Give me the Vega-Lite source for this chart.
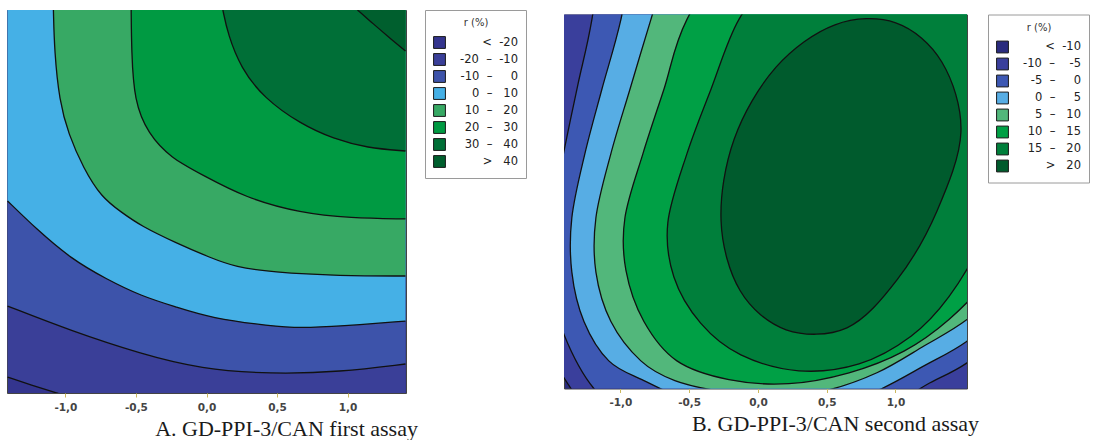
{
  "$schema": "https://vega.github.io/schema/vega-lite/v6.json",
  "background": "white",
  "padding": {"left": 6, "top": 9, "right": 0, "bottom": 0},
  "spacing": 36,
  "center": true,
  "config": {
    "view": {"stroke": "#444", "strokeWidth": 1},
    "axis": {"grid": false},
    "legend": {
      "orient": "right", "strokeColor": "#9a9a9a", "strokeWidth": 1, "fillColor": "#ffffff", "padding": 8,
      "symbolType": "square", "symbolSize": 140, "symbolStrokeColor": "#1a1a1a", "symbolStrokeWidth": 1, "symbolOpacity": 1,
      "labelFont": "DejaVu Sans", "labelFontSize": 11.5, "labelColor": "#222", "labelAlign": "right", "labelOffset": 72,
      "titleFont": "DejaVu Sans", "titleFontSize": 10, "titleFontWeight": "normal", "titleColor": "#333", "titleAnchor": "middle",
      "rowPadding": 0, "titlePadding": 8
    }
  },
  "resolve": {"scale": {"x": "independent", "y": "independent", "color": "independent", "fill": "independent"}, "legend": {"color": "independent", "fill": "independent"}},
  "datasets": {
    "a": [
      {"lvl": 1, "x": -1.41, "y": -1.296}, {"lvl": 1, "x": -1.241, "y": -1.355}, {"lvl": 1, "x": -1.064, "y": -1.414}, {"lvl": 1, "x": -0.888, "y": -1.47}, {"lvl": 1, "x": 1.41, "y": -1.47},
      {"lvl": 2, "x": -1.41, "y": -0.772}, {"lvl": 2, "x": -0.958, "y": -0.956}, {"lvl": 2, "x": -0.464, "y": -1.126}, {"lvl": 2, "x": -0.04, "y": -1.237}, {"lvl": 2, "x": 0.455, "y": -1.274}, {"lvl": 2, "x": 0.95, "y": -1.259}, {"lvl": 2, "x": 1.41, "y": -1.2},
      {"lvl": 3, "x": -1.41, "y": 0.004}, {"lvl": 3, "x": -1.206, "y": -0.203}, {"lvl": 3, "x": -0.958, "y": -0.425}, {"lvl": 3, "x": -0.711, "y": -0.572}, {"lvl": 3, "x": -0.464, "y": -0.698}, {"lvl": 3, "x": -0.216, "y": -0.779}, {"lvl": 3, "x": 0.031, "y": -0.861}, {"lvl": 3, "x": 0.455, "y": -0.92}, {"lvl": 3, "x": 0.667, "y": -0.934}, {"lvl": 3, "x": 0.95, "y": -0.92}, {"lvl": 3, "x": 1.41, "y": -0.883},
      {"lvl": 4, "x": -1.085, "y": 1.414}, {"lvl": 4, "x": -1.078, "y": 1.111}, {"lvl": 4, "x": -1.043, "y": 0.742}, {"lvl": 4, "x": -0.979, "y": 0.499}, {"lvl": 4, "x": -0.873, "y": 0.247}, {"lvl": 4, "x": -0.746, "y": 0.033}, {"lvl": 4, "x": -0.605, "y": -0.078}, {"lvl": 4, "x": -0.464, "y": -0.181}, {"lvl": 4, "x": -0.216, "y": -0.306}, {"lvl": 4, "x": 0.031, "y": -0.417}, {"lvl": 4, "x": 0.208, "y": -0.484}, {"lvl": 4, "x": 0.455, "y": -0.521}, {"lvl": 4, "x": 0.95, "y": -0.55}, {"lvl": 4, "x": 1.41, "y": -0.55},
      {"lvl": 5, "x": -0.534, "y": 1.414}, {"lvl": 5, "x": -0.531, "y": 1.111}, {"lvl": 5, "x": -0.513, "y": 0.742}, {"lvl": 5, "x": -0.414, "y": 0.499}, {"lvl": 5, "x": -0.252, "y": 0.321}, {"lvl": 5, "x": -0.04, "y": 0.203}, {"lvl": 5, "x": 0.278, "y": 0.026}, {"lvl": 5, "x": 0.667, "y": -0.085}, {"lvl": 5, "x": 1.02, "y": -0.122}, {"lvl": 5, "x": 1.41, "y": -0.129},
      {"lvl": 6, "x": 0.116, "y": 1.414}, {"lvl": 6, "x": 0.151, "y": 1.237}, {"lvl": 6, "x": 0.243, "y": 0.986}, {"lvl": 6, "x": 0.406, "y": 0.764}, {"lvl": 6, "x": 0.667, "y": 0.572}, {"lvl": 6, "x": 0.9, "y": 0.462}, {"lvl": 6, "x": 1.14, "y": 0.395}, {"lvl": 6, "x": 1.41, "y": 0.373},
      {"lvl": 7, "x": 1.07, "y": 1.414}, {"lvl": 7, "x": 1.183, "y": 1.311}, {"lvl": 7, "x": 1.282, "y": 1.222}, {"lvl": 7, "x": 1.41, "y": 1.111}
    ],
    "b": [
      {"lvl": 1, "i": 1, "x": 0.007, "y": 4.093}, {"lvl": 1, "i": 2, "x": -0.865, "y": 3.422}, {"lvl": 1, "i": 3, "x": -1.338, "y": 2.526}, {"lvl": 1, "i": 4, "x": -1.535, "y": 1.631}, {"lvl": 1, "i": 5, "x": -1.629, "y": 0.735}, {"lvl": 1, "i": 6, "x": -1.68, "y": -0.16}, {"lvl": 1, "i": 7, "x": -1.593, "y": -0.907}, {"lvl": 1, "i": 8, "x": -1.411, "y": -1.332}, {"lvl": 1, "i": 9, "x": -1.156, "y": -1.653}, {"lvl": 1, "i": 10, "x": -0.72, "y": -1.951}, {"lvl": 1, "i": 11, "x": -0.138, "y": -2.101}, {"lvl": 1, "i": 12, "x": 0.516, "y": -2.086}, {"lvl": 1, "i": 13, "x": 1.098, "y": -1.914}, {"lvl": 1, "i": 14, "x": 1.571, "y": -1.504}, {"lvl": 1, "i": 15, "x": 2.044, "y": -0.981}, {"lvl": 1, "i": 16, "x": 2.48, "y": -0.384}, {"lvl": 1, "i": 17, "x": 2.844, "y": 0.362}, {"lvl": 1, "i": 18, "x": 3.062, "y": 1.257}, {"lvl": 1, "i": 19, "x": 3.062, "y": 2.228}, {"lvl": 1, "i": 20, "x": 2.771, "y": 3.123}, {"lvl": 1, "i": 21, "x": 2.189, "y": 3.795}, {"lvl": 1, "i": 22, "x": 1.389, "y": 4.168}, {"lvl": 1, "i": 23, "x": 0.662, "y": 4.243},
      {"lvl": 2, "i": 1, "x": 0.007, "y": 3.646}, {"lvl": 2, "i": 2, "x": -0.72, "y": 3.049}, {"lvl": 2, "i": 3, "x": -1.084, "y": 2.228}, {"lvl": 2, "i": 4, "x": -1.207, "y": 1.377}, {"lvl": 2, "i": 5, "x": -1.309, "y": 0.884}, {"lvl": 2, "i": 6, "x": -1.411, "y": 0.377}, {"lvl": 2, "i": 7, "x": -1.505, "y": -0.123}, {"lvl": 2, "i": 8, "x": -1.52, "y": -0.571}, {"lvl": 2, "i": 9, "x": -1.411, "y": -1.004}, {"lvl": 2, "i": 10, "x": -1.193, "y": -1.414}, {"lvl": 2, "i": 11, "x": -0.865, "y": -1.69}, {"lvl": 2, "i": 12, "x": -0.429, "y": -1.84}, {"lvl": 2, "i": 13, "x": 0.116, "y": -1.877}, {"lvl": 2, "i": 14, "x": 0.662, "y": -1.765}, {"lvl": 2, "i": 15, "x": 0.989, "y": -1.541}, {"lvl": 2, "i": 16, "x": 1.229, "y": -1.384}, {"lvl": 2, "i": 17, "x": 1.52, "y": -1.22}, {"lvl": 2, "i": 18, "x": 1.898, "y": -0.907}, {"lvl": 2, "i": 19, "x": 2.262, "y": -0.459}, {"lvl": 2, "i": 20, "x": 2.589, "y": 0.138}, {"lvl": 2, "i": 21, "x": 2.807, "y": 0.959}, {"lvl": 2, "i": 22, "x": 2.844, "y": 1.854}, {"lvl": 2, "i": 23, "x": 2.589, "y": 2.75}, {"lvl": 2, "i": 24, "x": 2.044, "y": 3.422}, {"lvl": 2, "i": 25, "x": 1.244, "y": 3.72}, {"lvl": 2, "i": 26, "x": 0.589, "y": 3.757},
      {"lvl": 3, "i": 1, "x": 0.153, "y": 3.272}, {"lvl": 3, "i": 2, "x": -0.502, "y": 2.75}, {"lvl": 3, "i": 3, "x": -0.865, "y": 2.078}, {"lvl": 3, "i": 4, "x": -0.996, "y": 1.377}, {"lvl": 3, "i": 5, "x": -1.135, "y": 0.847}, {"lvl": 3, "i": 6, "x": -1.258, "y": 0.362}, {"lvl": 3, "i": 7, "x": -1.353, "y": -0.123}, {"lvl": 3, "i": 8, "x": -1.353, "y": -0.534}, {"lvl": 3, "i": 9, "x": -1.265, "y": -0.907}, {"lvl": 3, "i": 10, "x": -1.084, "y": -1.205}, {"lvl": 3, "i": 11, "x": -0.829, "y": -1.354}, {"lvl": 3, "i": 12, "x": -0.502, "y": -1.504}, {"lvl": 3, "i": 13, "x": -0.138, "y": -1.578}, {"lvl": 3, "i": 14, "x": 0.225, "y": -1.593}, {"lvl": 3, "i": 15, "x": 0.589, "y": -1.541}, {"lvl": 3, "i": 16, "x": 0.902, "y": -1.414}, {"lvl": 3, "i": 17, "x": 1.207, "y": -1.243}, {"lvl": 3, "i": 18, "x": 1.52, "y": -1.056}, {"lvl": 3, "i": 19, "x": 1.862, "y": -0.757}, {"lvl": 3, "i": 20, "x": 2.189, "y": -0.31}, {"lvl": 3, "i": 21, "x": 2.48, "y": 0.287}, {"lvl": 3, "i": 22, "x": 2.662, "y": 1.034}, {"lvl": 3, "i": 23, "x": 2.662, "y": 1.854}, {"lvl": 3, "i": 24, "x": 2.407, "y": 2.601}, {"lvl": 3, "i": 25, "x": 1.898, "y": 3.123}, {"lvl": 3, "i": 26, "x": 1.171, "y": 3.422},
      {"lvl": 4, "i": 1, "x": 0.298, "y": 2.899}, {"lvl": 4, "i": 2, "x": -0.356, "y": 2.377}, {"lvl": 4, "i": 3, "x": -0.633, "y": 1.854}, {"lvl": 4, "i": 4, "x": -0.778, "y": 1.377}, {"lvl": 4, "i": 5, "x": -0.931, "y": 0.847}, {"lvl": 4, "i": 6, "x": -1.069, "y": 0.362}, {"lvl": 4, "i": 7, "x": -1.178, "y": -0.123}, {"lvl": 4, "i": 8, "x": -1.178, "y": -0.534}, {"lvl": 4, "i": 9, "x": -1.069, "y": -0.907}, {"lvl": 4, "i": 10, "x": -0.851, "y": -1.205}, {"lvl": 4, "i": 11, "x": -0.604, "y": -1.354}, {"lvl": 4, "i": 12, "x": -0.262, "y": -1.437}, {"lvl": 4, "i": 13, "x": 0.116, "y": -1.474}, {"lvl": 4, "i": 14, "x": 0.495, "y": -1.429}, {"lvl": 4, "i": 15, "x": 0.865, "y": -1.295}, {"lvl": 4, "i": 16, "x": 1.207, "y": -1.093}, {"lvl": 4, "i": 17, "x": 1.52, "y": -0.892}, {"lvl": 4, "i": 18, "x": 1.825, "y": -0.608}, {"lvl": 4, "i": 19, "x": 2.116, "y": -0.16}, {"lvl": 4, "i": 20, "x": 2.371, "y": 0.437}, {"lvl": 4, "i": 21, "x": 2.516, "y": 1.108}, {"lvl": 4, "i": 22, "x": 2.48, "y": 1.854}, {"lvl": 4, "i": 23, "x": 2.189, "y": 2.526}, {"lvl": 4, "i": 24, "x": 1.68, "y": 2.974}, {"lvl": 4, "i": 25, "x": 1.025, "y": 3.086},
      {"lvl": 5, "i": 1, "x": 0.516, "y": 2.489}, {"lvl": 5, "i": 2, "x": -0.102, "y": 2.041}, {"lvl": 5, "i": 3, "x": -0.516, "y": 1.377}, {"lvl": 5, "i": 4, "x": -0.684, "y": 0.847}, {"lvl": 5, "i": 5, "x": -0.836, "y": 0.362}, {"lvl": 5, "i": 6, "x": -0.967, "y": -0.123}, {"lvl": 5, "i": 7, "x": -0.96, "y": -0.519}, {"lvl": 5, "i": 8, "x": -0.829, "y": -0.907}, {"lvl": 5, "i": 9, "x": -0.589, "y": -1.205}, {"lvl": 5, "i": 10, "x": -0.211, "y": -1.347}, {"lvl": 5, "i": 11, "x": 0.225, "y": -1.377}, {"lvl": 5, "i": 12, "x": 0.662, "y": -1.295}, {"lvl": 5, "i": 13, "x": 1.062, "y": -1.131}, {"lvl": 5, "i": 14, "x": 1.389, "y": -0.892}, {"lvl": 5, "i": 15, "x": 1.68, "y": -0.571}, {"lvl": 5, "i": 16, "x": 1.971, "y": -0.086}, {"lvl": 5, "i": 17, "x": 2.225, "y": 0.511}, {"lvl": 5, "i": 18, "x": 2.335, "y": 1.183}, {"lvl": 5, "i": 19, "x": 2.262, "y": 1.854}, {"lvl": 5, "i": 20, "x": 1.898, "y": 2.34}, {"lvl": 5, "i": 21, "x": 1.244, "y": 2.601},
      {"lvl": 6, "i": 1, "x": 0.662, "y": 2.041}, {"lvl": 6, "i": 2, "x": 0.153, "y": 1.743}, {"lvl": 6, "i": 3, "x": -0.138, "y": 1.377}, {"lvl": 6, "i": 4, "x": -0.342, "y": 0.847}, {"lvl": 6, "i": 5, "x": -0.516, "y": 0.362}, {"lvl": 6, "i": 6, "x": -0.655, "y": -0.16}, {"lvl": 6, "i": 7, "x": -0.611, "y": -0.571}, {"lvl": 6, "i": 8, "x": -0.415, "y": -0.922}, {"lvl": 6, "i": 9, "x": -0.124, "y": -1.16}, {"lvl": 6, "i": 10, "x": 0.298, "y": -1.28}, {"lvl": 6, "i": 11, "x": 0.735, "y": -1.228}, {"lvl": 6, "i": 12, "x": 1.113, "y": -1.019}, {"lvl": 6, "i": 13, "x": 1.389, "y": -0.72}, {"lvl": 6, "i": 14, "x": 1.644, "y": -0.272}, {"lvl": 6, "i": 15, "x": 1.862, "y": 0.287}, {"lvl": 6, "i": 16, "x": 1.971, "y": 0.884}, {"lvl": 6, "i": 17, "x": 1.898, "y": 1.481}, {"lvl": 6, "i": 18, "x": 1.462, "y": 1.929},
      {"lvl": 7, "i": 1, "x": 0.56, "y": 1.336}, {"lvl": 7, "i": 2, "x": 1.002, "y": 1.351}, {"lvl": 7, "i": 3, "x": 1.337, "y": 1.055}, {"lvl": 7, "i": 4, "x": 1.476, "y": 0.528}, {"lvl": 7, "i": 5, "x": 1.302, "y": -0.071}, {"lvl": 7, "i": 6, "x": 1.011, "y": -0.593}, {"lvl": 7, "i": 7, "x": 0.647, "y": -0.955}, {"lvl": 7, "i": 8, "x": 0.205, "y": -0.97}, {"lvl": 7, "i": 9, "x": -0.129, "y": -0.675}, {"lvl": 7, "i": 10, "x": -0.268, "y": -0.147}, {"lvl": 7, "i": 11, "x": -0.173, "y": 0.471}, {"lvl": 7, "i": 12, "x": 0.13, "y": 1.014}
    ]
  },
  "hconcat": [
    {
      "width": 399, "height": 383,
      "data": {"name": "a"},
      "view": {"fill": "#34358e", "stroke": "#444"},
      "title": {"text": "A. GD-PPI-3/CAN first assay", "orient": "bottom", "anchor": "middle", "dx": 80, "offset": 6, "font": "Liberation Serif", "fontSize": 22, "fontWeight": "normal", "color": "#1a1a1a"},
      "encoding": {
        "x": {"field": "x", "type": "quantitative", "scale": {"domain": [-1.414, 1.414], "nice": false, "zero": false},
          "axis": {"title": null, "values": [-1, -0.5, 0, 0.5, 1], "labelExpr": "replace(replace(format(datum.value, '.1f'), '.', ','), '\u2212', '-')", "domain": false, "ticks": true, "tickSize": 4, "tickColor": "#cdb95e", "labelFont": "DejaVu Sans", "labelFontSize": 10.5, "labelFontWeight": "bold", "labelColor": "#444", "labelPadding": 5}},
        "y": {"field": "y", "type": "quantitative", "scale": {"domain": [-1.414, 1.414], "nice": false, "zero": false}, "axis": null},
        "color": {"field": "lvl", "type": "ordinal",
          "scale": {"domain": [0, 1, 2, 3, 4, 5, 6, 7], "range": ["#34358e", "#3a3f98", "#3d53aa", "#45b0e6", "#37a964", "#009a42", "#006f37", "#005f2e"]},
          "legend": {"title": "r (%)", "offset": 19, "labelExpr": "['<\u00a0\u00a0-20', '-20\u00a0\u00a0\u2013\u00a0\u00a0-10', '-10\u00a0\u00a0\u2013\u00a0\u00a0\u2007\u00a00', '0\u00a0\u00a0\u2013\u00a0\u00a0\u00a010', '10\u00a0\u00a0\u2013\u00a0\u00a0\u00a020', '20\u00a0\u00a0\u2013\u00a0\u00a0\u00a030', '30\u00a0\u00a0\u2013\u00a0\u00a0\u00a040', '>\u00a0\u00a0\u00a040'][datum.value]"}}
      },
      "layer": [
        {"transform": [{"filter": "datum.lvl == 1"}], "mark": {"type": "area", "clip": true, "interpolate": "basis"}, "encoding": {"y2": {"datum": 1.6}}},
        {"transform": [{"filter": "datum.lvl == 2"}], "mark": {"type": "area", "clip": true, "interpolate": "basis"}, "encoding": {"y2": {"datum": 1.6}}},
        {"transform": [{"filter": "datum.lvl == 3"}], "mark": {"type": "area", "clip": true, "interpolate": "basis"}, "encoding": {"y2": {"datum": 1.6}}},
        {"transform": [{"filter": "datum.lvl == 4"}], "mark": {"type": "area", "clip": true, "interpolate": "basis"}, "encoding": {"y2": {"datum": 1.6}}},
        {"transform": [{"filter": "datum.lvl == 5"}], "mark": {"type": "area", "clip": true, "interpolate": "basis"}, "encoding": {"y2": {"datum": 1.6}}},
        {"transform": [{"filter": "datum.lvl == 6"}], "mark": {"type": "area", "clip": true, "interpolate": "basis"}, "encoding": {"y2": {"datum": 1.6}}},
        {"transform": [{"filter": "datum.lvl == 7"}], "mark": {"type": "area", "clip": true, "interpolate": "basis"}, "encoding": {"y2": {"datum": 1.6}}},
        {"mark": {"type": "line", "clip": true, "interpolate": "basis", "strokeWidth": 1.3}, "encoding": {"color": {"value": "#111111"}, "detail": {"field": "lvl"}}}
      ]
    },
    {
      "width": 403, "height": 374,
      "data": {"name": "b"},
      "view": {"fill": "#2a2b7e", "stroke": "#444"},
      "title": {"text": "B. GD-PPI-3/CAN second assay", "orient": "bottom", "anchor": "middle", "dx": 70, "offset": 6, "font": "Liberation Serif", "fontSize": 22, "fontWeight": "normal", "color": "#1a1a1a"},
      "encoding": {
        "x": {"field": "x", "type": "quantitative", "scale": {"domain": [-1.41, 1.52], "nice": false, "zero": false},
          "axis": {"title": null, "values": [-1, -0.5, 0, 0.5, 1], "labelExpr": "replace(replace(format(datum.value, '.1f'), '.', ','), '\u2212', '-')", "domain": false, "ticks": true, "tickSize": 4, "tickColor": "#cdb95e", "labelFont": "DejaVu Sans", "labelFontSize": 10.5, "labelFontWeight": "bold", "labelColor": "#444", "labelPadding": 5}},
        "y": {"field": "y", "type": "quantitative", "scale": {"domain": [-1.414, 1.414], "nice": false, "zero": false}, "axis": null},
        "order": {"field": "i", "type": "quantitative"},
        "fill": {"field": "lvl", "type": "ordinal",
          "scale": {"domain": [0, 1, 2, 3, 4, 5, 6, 7], "range": ["#2a2b7e", "#3a3f9c", "#3d58b3", "#57ade4", "#52b77b", "#00a045", "#007f3b", "#005b2d"]},
          "legend": {"title": "r (%)", "offset": 21, "labelExpr": "['<\u00a0\u00a0-10', '-10\u00a0\u00a0\u2013\u00a0\u00a0\u2007-5', '-5\u00a0\u00a0\u2013\u00a0\u00a0\u2007\u00a00', '0\u00a0\u00a0\u2013\u00a0\u00a0\u2007\u00a05', '5\u00a0\u00a0\u2013\u00a0\u00a0\u00a010', '10\u00a0\u00a0\u2013\u00a0\u00a0\u00a015', '15\u00a0\u00a0\u2013\u00a0\u00a0\u00a020', '>\u00a0\u00a0\u00a020'][datum.value]"}},
        "stroke": {"value": "#111111"}
      },
      "layer": [
        {"transform": [{"filter": "datum.lvl == 1"}], "mark": {"type": "line", "clip": true, "interpolate": "cardinal-closed", "strokeWidth": 1.3}},
        {"transform": [{"filter": "datum.lvl == 2"}], "mark": {"type": "line", "clip": true, "interpolate": "cardinal-closed", "strokeWidth": 1.3}},
        {"transform": [{"filter": "datum.lvl == 3"}], "mark": {"type": "line", "clip": true, "interpolate": "cardinal-closed", "strokeWidth": 1.3}},
        {"transform": [{"filter": "datum.lvl == 4"}], "mark": {"type": "line", "clip": true, "interpolate": "cardinal-closed", "strokeWidth": 1.3}},
        {"transform": [{"filter": "datum.lvl == 5"}], "mark": {"type": "line", "clip": true, "interpolate": "cardinal-closed", "strokeWidth": 1.3}},
        {"transform": [{"filter": "datum.lvl == 6"}], "mark": {"type": "line", "clip": true, "interpolate": "cardinal-closed", "strokeWidth": 1.3}},
        {"transform": [{"filter": "datum.lvl == 7"}], "mark": {"type": "line", "clip": true, "interpolate": "cardinal-closed", "strokeWidth": 1.3}}
      ]
    }
  ]
}
